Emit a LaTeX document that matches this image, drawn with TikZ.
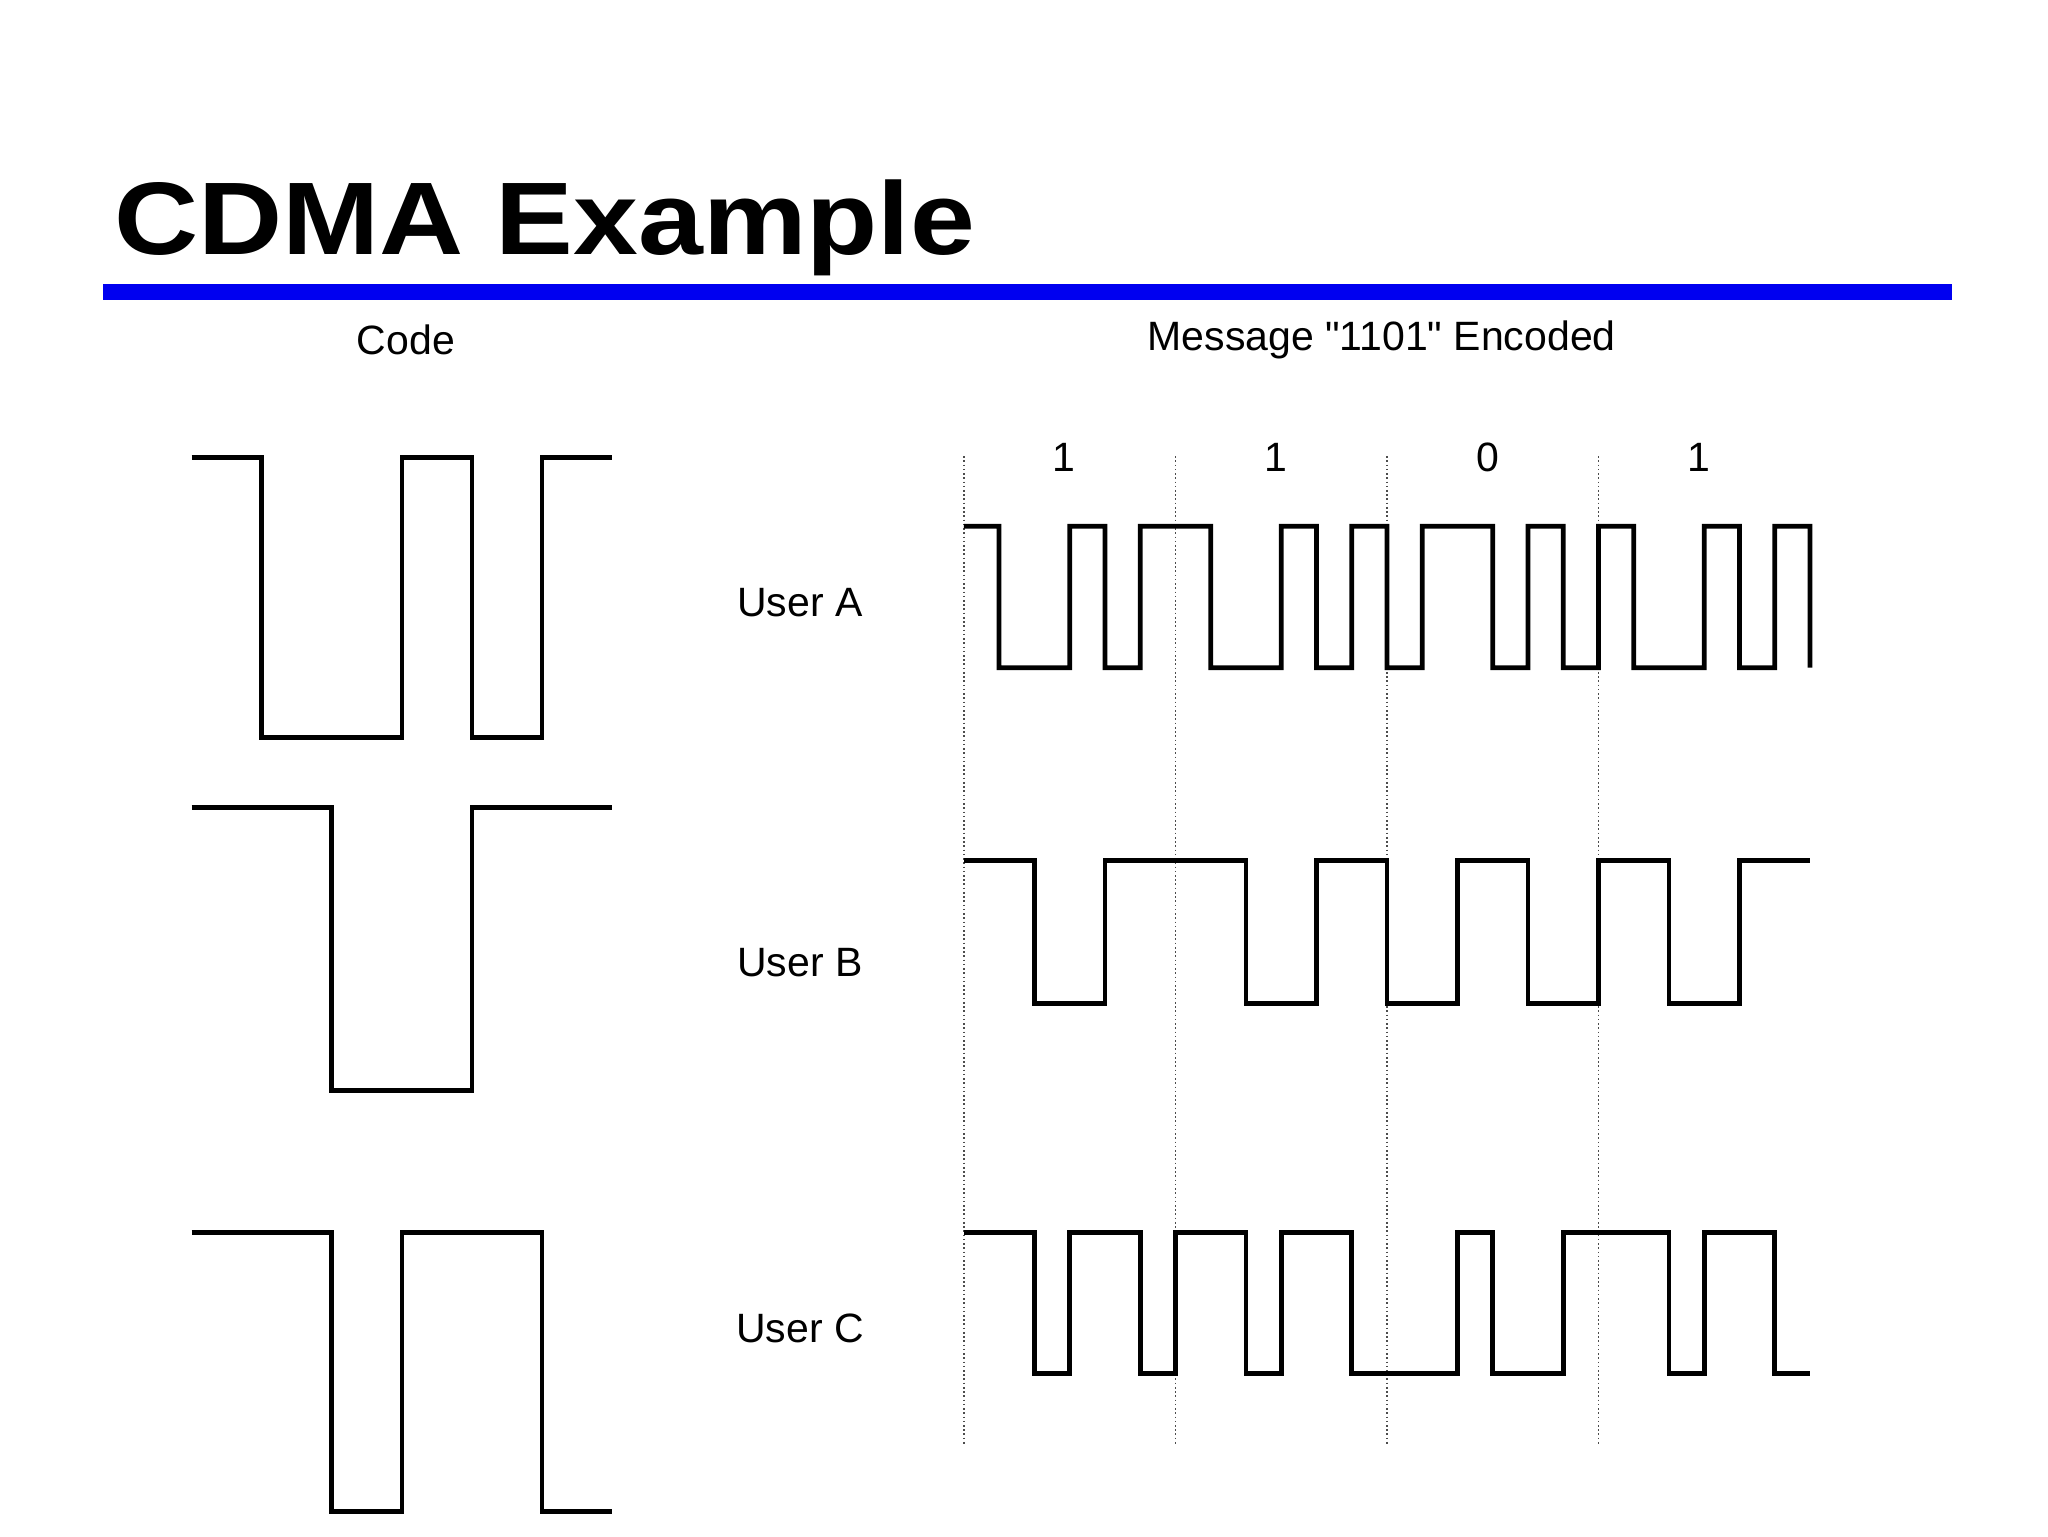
\documentclass[tikz,border=0pt]{standalone}
\usepackage{fontspec}
\setmainfont{Liberation Sans}[Ligatures=TeXOff]
\definecolor{barblue}{RGB}{0,0,240}
\begin{document}
\begin{tikzpicture}[x=1pt,y=-1pt,
  wave/.style={line width=3.6pt,line join=miter},
  lbl/.style={font=\fontsize{31}{34}\selectfont,inner sep=0pt},
  grid/.style={dotted,line width=1.2pt,black!70}]
\useasboundingbox (0,0) rectangle (1549,1162);
\fill[white] (0,0) rectangle (1549,1162);
% title
\node[anchor=west,inner sep=0pt,xscale=1.13,font=\fontsize{78}{80}\selectfont\bfseries] (title) at (86,172) {CDMA Example};
\fill[barblue] (78,215) rectangle (1476,227);
\node[lbl] (code) at (307,257) {Code};
\node[lbl] (msg) at (1045,257) {Message "1101" Encoded};
\node[lbl] (b1) at (805,346) {1};
\node[lbl] (b2) at (965,346) {1};
\node[lbl] (b3) at (1125,346) {0};
\node[lbl] (b4) at (1285,346) {1};
\node[lbl] (ua) at (605,456) {User A};
\node[lbl] (ub) at (605,728) {User B};
\node[lbl] (uc) at (605,1005) {User C};
% dotted bit boundaries
\foreach \x in {729,889,1049,1209} \draw[grid] (\x,345) -- (\x,1093);
% codes (left)
\draw[wave] (145,346) \foreach[count=\i from 0] \l in {1,0,0,1,0,1}
  { -- ({145+\i*53},{\l*346+(1-\l)*558}) -- ({145+(\i+1)*53},{\l*346+(1-\l)*558}) };
\draw[wave] (145,611) \foreach[count=\i from 0] \l in {1,1,0,0,1,1}
  { -- ({145+\i*53},{\l*611+(1-\l)*825}) -- ({145+(\i+1)*53},{\l*611+(1-\l)*825}) };
\draw[wave] (145,932) \foreach[count=\i from 0] \l in {1,1,0,1,1,0}
  { -- ({145+\i*53},{\l*932+(1-\l)*1143}) -- ({145+(\i+1)*53},{\l*932+(1-\l)*1143}) };
% encoded messages
\draw[wave] (729,398) \foreach[count=\i from 0] \l in {1,0,0,1,0,1,1,0,0,1,0,1,0,1,1,0,1,0,1,0,0,1,0,1}
  { -- ({729+\i*26.667},{\l*398+(1-\l)*505}) -- ({729+(\i+1)*26.667},{\l*398+(1-\l)*505}) } -- (1369,505);
\draw[wave] (729,651) \foreach[count=\i from 0] \l in {1,1,0,0,1,1,1,1,0,0,1,1,0,0,1,1,0,0,1,1,0,0,1,1}
  { -- ({729+\i*26.667},{\l*651+(1-\l)*759}) -- ({729+(\i+1)*26.667},{\l*651+(1-\l)*759}) };
\draw[wave] (729,932) \foreach[count=\i from 0] \l in {1,1,0,1,1,0,1,1,0,1,1,0,0,0,1,0,0,1,1,1,0,1,1,0}
  { -- ({729+\i*26.667},{\l*932+(1-\l)*1039}) -- ({729+(\i+1)*26.667},{\l*932+(1-\l)*1039}) };
\end{tikzpicture}
\end{document}
